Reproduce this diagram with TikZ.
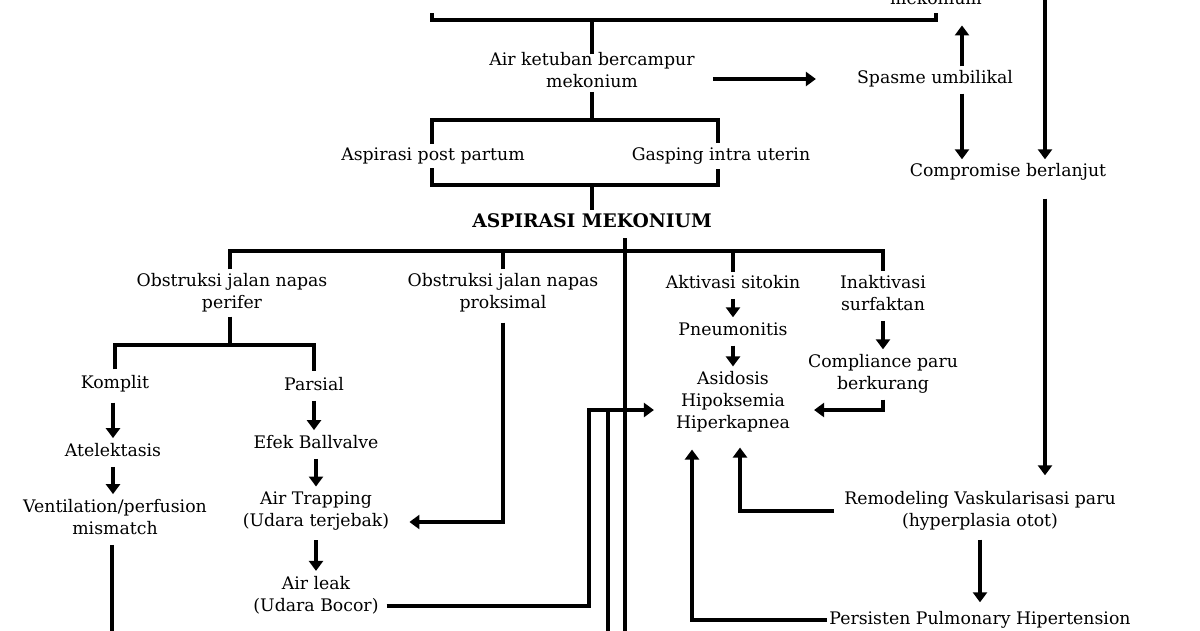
\documentclass[tikz,border=0pt]{standalone}
\usepackage{fontspec}
\setmainfont{DejaVu Serif}
\usetikzlibrary{arrows.meta}
\begin{document}
\begin{tikzpicture}[x=1pt,y=-1pt,
  txt/.style={inner sep=0pt,align=center,font=\fontsize{17.3}{22}\selectfont},
  ln/.style={line width=3.8pt},
  arr/.style={line width=3.8pt,-{Triangle[width=14pt,length=10pt]}},
  varr/.style={arr,shorten <=10pt,shorten >=5pt}]
\fill[white] (0,0) rectangle (1200,630);
\useasboundingbox (0,0) rectangle (1200,630);
% nodes
\node[txt] (mek0) at (936,-2) {mekonium};
\node[txt] (airk) at (592,70) {Air ketuban bercampur\\mekonium};
\node[txt] (spasme) at (935,79) {Spasme umbilikal};
\node[txt] (comp) at (1008,172) {Compromise berlanjut};
\node[txt] (post) at (433,156) {Aspirasi post partum};
\node[txt] (gasp) at (721,156) {Gasping intra uterin};
\node[txt,font=\fontsize{18.7}{22}\selectfont\bfseries] (asp) at (592,221) {ASPIRASI MEKONIUM};
\node[txt] (perif) at (232,293) {Obstruksi jalan napas\\perifer};
\node[txt] (prok) at (503,293) {Obstruksi jalan napas\\proksimal};
\node[txt] (sito) at (733,282) {Aktivasi sitokin};
\node[txt] (inak) at (883,293) {Inaktivasi\\surfaktan};
\node[txt] (pneu) at (733,329) {Pneumonitis};
\node[txt] (asid) at (733,402) {Asidosis\\Hipoksemia\\Hiperkapnea};
\node[txt] (compl) at (883,374) {Compliance paru\\berkurang};
\node[txt] (komp) at (115,384) {Komplit};
\node[txt] (pars) at (314,384) {Parsial};
\node[txt] (atel) at (113,450) {Atelektasis};
\node[txt] (vent) at (115,517) {Ventilation/perfusion\\mismatch};
\node[txt] (ball) at (316,442) {Efek Ballvalve};
\node[txt] (trap) at (316,511) {Air Trapping\\(Udara terjebak)};
\node[txt] (leak) at (316,595) {Air leak\\(Udara Bocor)};
\node[txt] (remod) at (980,511) {Remodeling Vaskularisasi paru\\(hyperplasia otot)};
\node[txt] (pph) at (980,620) {Persisten Pulmonary Hipertension};
% free ends
\coordinate (tl) at (432,13);
\coordinate (rt) at (1045,-2);
\coordinate (bot1) at (112,640);
\coordinate (bot2) at (608,640);
\coordinate (bot3) at (625,640);
% top bracket
\draw[ln] (tl) |- (mek0.south |- 0,20) -- ++(0,-7);
\draw[ln] ([yshift=-2pt]airk.north) -- (airk.north |- 0,20);
\draw[arr] ([xshift=18pt]airk.east |- spasme.west) -- ([xshift=-41pt]spasme.west);
\draw[arr] ([xshift=27pt,yshift=4pt]spasme.north) -- ([xshift=27pt,yshift=45pt]spasme.north);
\draw[arr] ([xshift=27pt,yshift=-6pt]spasme.south) -- ([xshift=-46pt,yshift=4pt]comp.north);
\draw[arr] (rt) -- ([xshift=37pt,yshift=4pt]comp.north);
\draw[arr] ([xshift=37pt,yshift=-18pt]comp.south) -- ([xshift=65pt,yshift=16pt]remod.north);
% second bracket
\draw[ln] ([yshift=-4pt]airk.south) -- (airk.south |- 0,120);
\draw[ln] ([xshift=-1pt,yshift=4pt]post.north) |- ([xshift=-3pt]gasp.north |- 0,120) -- ([xshift=-3pt,yshift=4pt]gasp.north);
\draw[ln] ([xshift=-1pt,yshift=-4pt]post.south) |- ([xshift=-3pt]gasp.south |- 0,185) -- ([xshift=-3pt,yshift=-4pt]gasp.south);
\draw[ln] (asp.north |- 0,185) -- ([yshift=4pt]asp.north);
% main distribution
\draw[ln] ([xshift=33pt,yshift=-10pt]asp.south) -- (bot3);
\draw[ln] ([xshift=-2pt,yshift=4pt]perif.north) |- (inak.north |- 0,251) -- ([yshift=4pt]inak.north);
\draw[ln] ([yshift=4pt]prok.north) -- (prok.north |- 0,251);
\draw[ln] ([yshift=3pt]sito.north) -- (sito.north |- 0,251);
% perifer branch
\draw[ln] ([xshift=-2pt,yshift=-4pt]perif.south) -- ([xshift=-2pt]perif.south |- 0,345);
\draw[ln] ([yshift=6pt]komp.north) |- (pars.north |- 0,345) -- ([yshift=6pt]pars.north);
\draw[varr] ([xshift=-2pt]komp.south) -- ([xshift=-2pt]komp.south |- atel.north);
\draw[varr] (atel.south) -- (atel.south |- vent.north);
\draw[ln] ([xshift=-3pt,yshift=-10pt]vent.south) -- (bot1);
\draw[varr] (pars.south) -- (pars.south |- ball.north);
\draw[varr] (ball.south) -- (ball.south |- trap.north);
\draw[varr] (trap.south) -- (trap.south |- leak.north);
% proksimal
\draw[arr] ([yshift=-10pt]prok.south) |- ([xshift=20pt,yshift=-11pt]trap.east);
% right column
\draw[varr] (sito.south) -- (sito.south |- pneu.north);
\draw[varr] (pneu.south) -- (pneu.south |- asid.north);
\draw[varr] (inak.south) -- (inak.south |- compl.north);
\draw[arr] ([yshift=-6pt]compl.south) |- ([xshift=24pt,yshift=-8pt]asid.east);
% air leak to asidosis
\coordinate (la) at ([xshift=8pt,yshift=-11pt]leak.east);
\coordinate (aw) at ([xshift=-22pt,yshift=-8pt]asid.west);
\draw[arr] (la) -- (la -| 589,0) -- (aw -| 589,0) -- (aw);
\draw[ln] (bot2) -- (aw -| bot2);
% remodeling / PPH
\draw[arr] ([xshift=-10pt]remod.west) -| ([xshift=7pt,yshift=-15pt]asid.south);
\draw[arr] ([xshift=-2pt]pph.west) -| ([xshift=-41pt,yshift=-17pt]asid.south);
\draw[arr] ([yshift=-9pt]remod.south) -- ([yshift=9pt]pph.north);
\end{tikzpicture}
\end{document}
